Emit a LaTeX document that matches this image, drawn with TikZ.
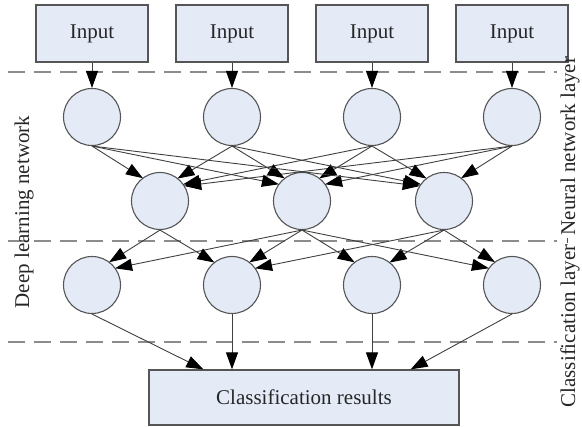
\documentclass[tikz,border=0pt]{standalone}
\usepackage{fontspec}
\setmainfont{Liberation Serif}
\usetikzlibrary{arrows.meta,calc,intersections}
\definecolor{cellfill}{RGB}{228,235,247}
\definecolor{cellline}{RGB}{85,85,85}
\tikzset{
	box/.style={draw=cellline, line width=1.3pt, fill=cellfill, minimum width=112pt, minimum height=57pt, inner sep=0pt, font=\fontsize{21}{25}\selectfont, text=black!85},
	cell/.style={circle, draw=cellline, line width=1.1pt, fill=cellfill, minimum size=57pt, inner sep=0pt},
	arr/.style={draw=black!75, line width=0.9pt, -{Triangle[length=17pt,width=12pt,black]}},
	sep/.style={draw=black!45, line width=2pt, dash pattern=on 17pt off 9pt},
	side/.style={rotate=90, font=\fontsize{21}{25}\selectfont, text=black!85}
}

\begin{document}
\begin{tikzpicture}[x=1pt,y=1pt]
	\useasboundingbox (0,0) rectangle (582,427);
	% separators
	\draw[sep] (8,355) -- (557,355);
	\draw[sep] (8,186) -- (557,186);
	\draw[sep] (8,85) -- (557,85);
	% nodes
	\foreach \i/\x in {1/92,2/232,3/372,4/512} {
		\node[box] (in\i) at (\x,393.5) {Input};
		\node[cell] (h\i) at (\x,310) {};
		\node[cell] (c\i) at (\x,142) {};
	}
	\foreach \j/\x in {1/160,2/302,3/444}
		\node[cell] (m\j) at (\x,226) {};
	\node[box, minimum width=310pt, minimum height=55pt] (out) at (304,29.5) {Classification results};
	% side labels
	\node[side] (deep) at (24,215) {Deep learning network};
	\node[side] (neural) at (570,281) {Neural network layer};
	\node[side] (class) at (570,101) {Classification layer};
	\draw[black!70, line width=0.8pt] (567,184) -- (567,189);
	% input -> first layer
	\foreach \i in {1,...,4}
		\draw[arr] (in\i) -- (h\i);
	% first layer -> second layer
	\foreach \j in {1,2,3} {
		\path[name path=rim] (m\j) circle (28.5);
		\foreach \i in {1,...,4} {
			\path[name path=ln] (h\i.south) -- ($(m\j)+(0,12)$);
			\draw[arr, name intersections={of=ln and rim}] (h\i.south) -- (intersection-1);
		}
	}
	% second layer -> classification layer
	\foreach \k/\src in {1/{1,2},2/{1,2,3},3/{2,3},4/{2,3}} {
		\path[name path=rim] (c\k) circle (28.5);
		\foreach \j in \src {
			\path[name path=ln] (m\j.south) -- ($(c\k)+(0,12)$);
			\draw[arr, name intersections={of=ln and rim}] (m\j.south) -- (intersection-1);
		}
	}
	% classification layer -> results
	\draw[arr] (c1.south) -- ($(out.north west)+(55,0)$);
	\draw[arr] (c2.south) -- (c2.south |- out.north);
	\draw[arr] (c3.south) -- (c3.south |- out.north);
	\draw[arr] (c4.south) -- ($(out.north east)+(-49,0)$);
\end{tikzpicture}
\end{document}
